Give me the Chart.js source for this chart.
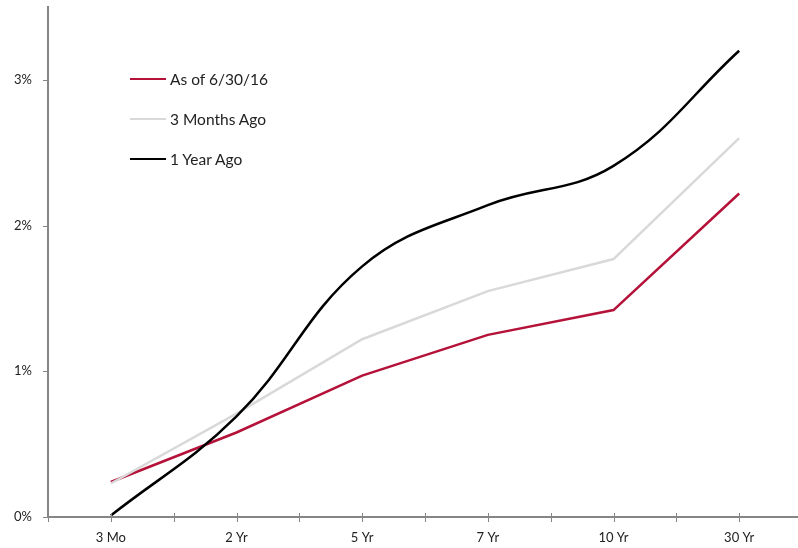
<!DOCTYPE html>
<html>
<head>
<meta charset="utf-8">
<script src="https://cdn.jsdelivr.net/npm/chart.js@4.4.1/dist/chart.umd.min.js"></script>
<style>
  html, body { margin: 0; padding: 0; background: #fff; overflow: hidden; }
  #wrap { position: relative; width: 802px; height: 548px; }
  #legend { position: absolute; left: 130px; top: 68px; font-family: Lato, "Open Sans", sans-serif; font-size: 15.5px; color: #222; }
  .item { display: flex; align-items: center; height: 22px; margin-bottom: 18px; }
  .swatch { width: 36px; height: 2.5px; margin-right: 4px; }
</style>
</head>
<body>
<div id="wrap">
  <canvas id="c" width="802" height="548"></canvas>
  <div id="legend"></div>
</div>
<script>
const categories = ["3 Mo", "2 Yr", "5 Yr", "7 Yr", "10 Yr", "30 Yr"];
const seriesNames = ["As of 6/30/16", "3 Months Ago", "1 Year Ago"];
const asOf = [0.24, 0.58, 0.97, 1.25, 1.42, 2.22];
const threeMonthsAgo = [0.23, 0.71, 1.22, 1.55, 1.77, 2.60];
const oneYearAgo = [0.01, 0.69, 1.72, 2.14, 2.41, 3.20];
const yTicks = [0, 1, 2, 3];

const colors = ["#B5123A", "#D9D9D9", "#000000"];
const tensions = [0, 0, 0.4];
const values = [asOf, threeMonthsAgo, oneYearAgo];

const axisColor = "#868686";
const tickPlugin = {
  id: "ticks",
  afterDraw(chart) {
    const ctx = chart.ctx;
    const xs = chart.scales.x, ys = chart.scales.y;
    const ca = chart.chartArea;
    ctx.save();
    ctx.strokeStyle = axisColor;
    ctx.lineWidth = 1;
    const half = (xs.getPixelForValue(1) - xs.getPixelForValue(0)) / 2;
    for (let i = 0; i < categories.length; i++) {
      const c = xs.getPixelForValue(i);
      [c - half, c, c + half].forEach(px => {
        const x = Math.round(px) + 0.5;
        ctx.beginPath(); ctx.moveTo(x, ca.bottom - 4); ctx.lineTo(x, ca.bottom + 5); ctx.stroke();
      });
    }
    yTicks.forEach(v => {
      const y = Math.round(ys.getPixelForValue(v)) + 0.5;
      ctx.beginPath(); ctx.moveTo(ca.left - 5, y); ctx.lineTo(ca.left, y); ctx.stroke();
    });
    ctx.restore();
  }
};

const chart = new Chart(document.getElementById("c"), {
  type: "line",
  data: {
    labels: categories,
    datasets: seriesNames.map((n, i) => ({
      label: n,
      data: values[i],
      borderColor: colors[i],
      backgroundColor: colors[i],
      borderWidth: 2.5,
      pointRadius: 0,
      tension: tensions[i],
      fill: false
    })).reverse()
  },
  options: {
    responsive: false,
    animation: false,
    layout: { padding: { top: 7, right: 0, left: 0, bottom: 0 } },
    plugins: { legend: { display: false }, tooltip: { enabled: false } },
    scales: {
      x: {
        type: "category",
        offset: true,
        grid: { display: false, drawTicks: false },
        border: { display: true, color: axisColor, width: 2 },
        ticks: { padding: 13, color: "#222", font: { family: "Lato, 'Open Sans', sans-serif", size: 13 }, maxRotation: 0 },
        afterFit(s) { s.height = 31; s.paddingLeft = 0; s.paddingRight = 0; }
      },
      y: {
        min: 0, max: 3.5,
        grid: { display: false, drawTicks: false },
        border: { display: true, color: axisColor, width: 2 },
        afterBuildTicks(s) { s.ticks = yTicks.map(v => ({ value: v })); },
        ticks: {
          padding: 16, color: "#222",
          font: { family: "Lato, 'Open Sans', sans-serif", size: 13 },
          callback: v => v + "%"
        },
        afterFit(s) { s.width = 48; s.paddingTop = 0; s.paddingBottom = 0; }
      }
    }
  },
  plugins: [tickPlugin]
});

const leg = document.getElementById("legend");
seriesNames.forEach((n, i) => {
  const d = document.createElement("div");
  d.className = "item";
  d.innerHTML = '<span class="swatch" style="background:' + colors[i] + '"></span><span></span>';
  d.lastChild.textContent = n;
  leg.appendChild(d);
});
</script>
</body>
</html>
